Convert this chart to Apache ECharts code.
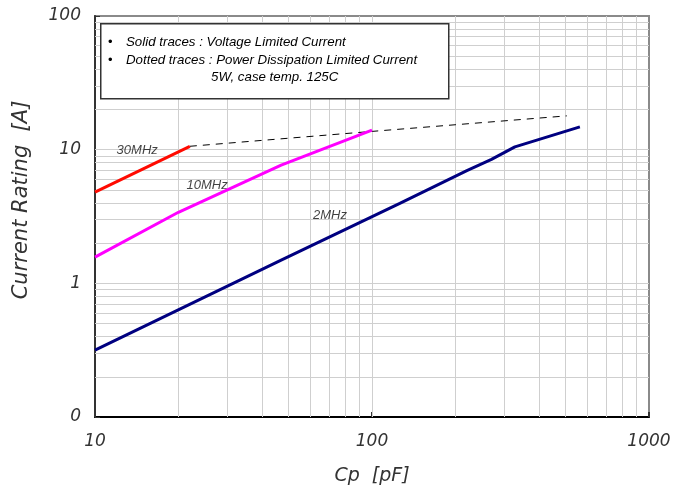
<!DOCTYPE html>
<html>
<head>
<meta charset="utf-8">
<script src="https://cdn.jsdelivr.net/npm/echarts@6/dist/echarts.min.js"></script>
<style>html,body{margin:0;padding:0;background:#fff}#c{width:689px;height:493px}</style>
</head>
<body>
<div id="c"></div>
<script>
// ---- data ----
var mhz30 = [[10, 4.82], [22, 10.6]];
var mhz10 = [[10, 1.57], [20, 3.4], [47, 7.67], [100, 14.0]];
var mhz2 = [[10, 0.317], [47, 1.49], [126, 3.96], [220, 6.97], [270, 8.45], [328, 10.5], [563, 14.8]];
var powerLimit = [[22, 10.6], [100, 13.7], [505, 17.9]];
var curveLabels = [[14.2, 9.8, '30MHz'], [25.4, 5.43, '10MHz'], [70.5, 3.24, '2MHz']];
var xGridValues = [20, 30, 40, 50, 60, 70, 80, 90, 100, 200, 300, 400, 500, 600, 700, 800, 900];
var yGridValues = [0.2, 0.3, 0.4, 0.5, 0.6, 0.7, 0.8, 0.9, 1, 2, 3, 4, 5, 6, 7, 8, 9, 10, 20, 30, 40, 50, 60, 70, 80, 90];
var xTicks = [10, 100, 1000];
var yTicks = [0.1, 1, 10, 100];
var xTitle = 'Cp  [pF]';
var yTitle = 'Current Rating  [A]';
var legendLines = ['Solid traces : Voltage Limited Current', 'Dotted traces : Power Dissipation Limited Current', '5W, case temp. 125C'];

var chart = echarts.init(document.getElementById('c'), null, {renderer: 'canvas'});
var axisFont = 'DejaVu Sans';
var gridLines = [];
xGridValues.forEach(function (v) { gridLines.push({xAxis: v}); });
yGridValues.forEach(function (v) { gridLines.push({yAxis: v}); });

chart.setOption({
  animation: false,
  backgroundColor: '#fff',
  grid: {left: 95, right: 40, top: 16, bottom: 76, show: true, borderColor: '#8a8a8a', borderWidth: 2, backgroundColor: 'transparent'},
  xAxis: {
    type: 'log', logBase: 10, min: xTicks[0], max: xTicks[xTicks.length - 1],
    name: xTitle, nameLocation: 'middle', nameGap: 50,
    nameTextStyle: {fontFamily: axisFont, fontStyle: 'italic', fontSize: 19, color: '#333'},
    axisLine: {show: true, onZero: false, lineStyle: {color: '#000', width: 2}},
    axisTick: {show: true, inside: true, length: 5, lineStyle: {color: '#333', width: 2}},
    splitLine: {show: false},
    axisLabel: {margin: 16, fontFamily: axisFont, fontStyle: 'italic', fontSize: 17, color: '#333',
      formatter: function (v) { return String(Math.round(v)); }}
  },
  yAxis: {
    type: 'log', logBase: 10, min: yTicks[0], max: yTicks[yTicks.length - 1],
    axisLine: {show: true, onZero: false, lineStyle: {color: '#333', width: 2}},
    axisTick: {show: true, inside: true, length: 5, lineStyle: {color: '#333', width: 1}},
    splitLine: {show: false},
    axisLabel: {margin: 14, fontFamily: axisFont, fontStyle: 'italic', fontSize: 17, color: '#333',
      formatter: function (v) { return v < 1 ? '0' : String(Math.round(v)); }}
  },
  graphic: [
    {type: 'text', x: 22, y: 200, rotation: Math.PI / 2, z: 11,
      style: {text: yTitle, fontFamily: axisFont, fontStyle: 'italic', fontSize: 21, fill: '#333', align: 'center', verticalAlign: 'middle'}},
    {type: 'rect', left: 100, top: 23, z: 10,
      shape: {width: 348, height: 75},
      style: {fill: '#fff', stroke: '#333', lineWidth: 1.5}},
    {type: 'text', left: 108, top: 36, z: 11, style: {text: '\u2022', font: '13px "Liberation Sans"', fill: '#000'}},
    {type: 'text', left: 108, top: 54, z: 11, style: {text: '\u2022', font: '13px "Liberation Sans"', fill: '#000'}},
    {type: 'text', left: 126, top: 36, z: 11, style: {text: legendLines[0], font: 'italic 13.3px "Liberation Sans"', fill: '#000'}},
    {type: 'text', left: 126, top: 54, z: 11, style: {text: legendLines[1], font: 'italic 13.3px "Liberation Sans"', fill: '#000'}},
    {type: 'text', left: 211, top: 71, z: 11, style: {text: legendLines[2], font: 'italic 13.3px "Liberation Sans"', fill: '#000'}}
  ],
  series: [
    {type: 'line', data: [], z: 1, silent: true,
      markLine: {z: 1, silent: true, symbol: 'none', animation: false, label: {show: false},
        lineStyle: {color: '#cfcfcf', width: 1, type: 'solid'}, emphasis: {disabled: true}, data: gridLines}},
    {name: 'power', type: 'line', data: powerLimit, symbol: 'none', z: 3,
      lineStyle: {color: '#000', width: 1, type: [7, 6]}},
    {name: '30MHz', type: 'line', data: mhz30, symbol: 'none', z: 4, lineStyle: {color: '#ff0a00', width: 3}},
    {name: '10MHz', type: 'line', data: mhz10, symbol: 'none', z: 4, lineStyle: {color: '#ff00ff', width: 3}},
    {name: '2MHz', type: 'line', data: mhz2, symbol: 'none', z: 4, lineStyle: {color: '#000080', width: 3}},
    {name: 'labels', type: 'scatter', data: curveLabels, symbolSize: 0, z: 5, silent: true,
      label: {show: true, position: 'inside', formatter: function (p) { return p.data[2]; },
        fontFamily: 'Liberation Sans', fontStyle: 'italic', fontSize: 13, color: '#111'}}
  ]
});
</script>
</body>
</html>
